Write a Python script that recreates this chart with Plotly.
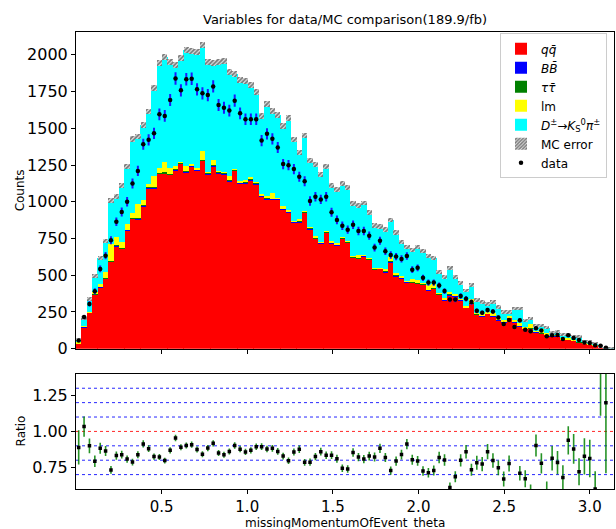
import numpy as np
import plotly.graph_objects as go

# ---------------- data ----------------
n_bins = 100
x_min, x_max = 0.0, np.pi

qq = [36, 147, 244, 369, 419, 477, 590, 697, 681, 805,
      885, 882, 968, 1090, 1090, 1190, 1190, 1183, 1213, 1258,
      1199, 1240, 1213, 1278, 1188, 1242, 1195, 1188, 1138, 1210,
      1124, 1124, 1143, 1120, 1036, 1018, 1014, 1014, 946, 928,
      860, 860, 925, 814, 747, 717, 790, 717, 704, 747,
      722, 618, 613, 629, 606, 538, 543, 520, 588, 493,
      480, 452, 448, 443, 437, 398, 410, 369, 331, 365,
      358, 331, 278, 308, 233, 222, 238, 222, 195, 181,
      211, 181, 154, 138, 138, 113, 102, 97, 86, 86,
      63, 63, 54, 45, 36, 27, 20, 10, 4, 1]

bb = [0, 1, 1, 1, 2, 2, 2, 3, 3, 3,
      3, 4, 4, 4, 4, 4, 5, 5, 5, 5,
      5, 5, 5, 5, 5, 5, 5, 5, 5, 5,
      5, 5, 5, 5, 5, 6, 5, 5, 5, 5,
      4, 4, 4, 6, 4, 4, 4, 4, 4, 5,
      4, 3, 3, 3, 3, 3, 3, 3, 3, 3,
      3, 3, 2, 2, 2, 2, 2, 2, 2, 2,
      2, 2, 2, 2, 2, 2, 2, 1, 1, 1,
      1, 1, 1, 1, 1, 1, 1, 1, 1, 1,
      1, 1, 0, 0, 0, 0, 0, 0, 0, 0]

tautau = [1, 1, 1, 2, 2, 2, 3, 3, 3, 3,
          3, 3, 3, 4, 4, 4, 4, 4, 4, 4,
          4, 4, 4, 4, 4, 4, 4, 4, 4, 4,
          4, 4, 4, 4, 4, 3, 3, 3, 3, 3,
          3, 3, 3, 3, 3, 3, 3, 3, 3, 3,
          3, 3, 3, 3, 3, 3, 3, 3, 3, 3,
          2, 2, 2, 2, 2, 2, 2, 2, 2, 2,
          2, 2, 2, 2, 2, 2, 2, 2, 2, 2,
          1, 1, 1, 1, 1, 1, 1, 1, 1, 1,
          1, 1, 1, 1, 0, 0, 0, 0, 0, 0]

lm = [8, 7, 5, 15, 18, 38, 115, 57, 38, 38,
      32, 95, 38, 25, 75, 32, 72, 38, 20, 2,
      34, 5, 5, 59, 5, 36, 5, 5, 25, 5,
      5, 18, 18, 2, 8, 10, 40, 2, 18, 7,
      2, 18, 2, 3, 14, 2, 2, 10, 5, 2,
      2, 5, 18, 5, 3, 3, 3, 15, 29, 18,
      7, 2, 22, 22, 5, 32, 27, 5, 8, 16,
      10, 5, 10, 27, 5, 12, 5, 15, 10, 12,
      10, 15, 18, 10, 27, 8, 29, 8, 5, 5,
      8, 5, 3, 3, 3, 3, 2, 1, 0, 0]

# total MC (top of the stack, i.e. qq + BB + tautau + lm + D->Ks pi)
mc_total = [63, 208, 339, 493, 615, 733, 1007, 1038, 1109, 1238,
            1428, 1443, 1523, 1615, 1776, 1941, 1986, 1948, 1928, 1975,
            2032, 2023, 2018, 2066, 1952, 1946, 1952, 1957, 1882, 1871,
            1828, 1821, 1797, 1747, 1584, 1665, 1618, 1590, 1516, 1568,
            1425, 1335, 1452, 1278, 1253, 1183, 1240, 1111, 1081, 1124,
            1097, 989, 975, 991, 928, 837, 833, 810, 876, 790,
            728, 692, 670, 692, 665, 631, 618, 525, 489, 548,
            489, 448, 396, 432, 330, 317, 306, 317, 285, 251,
            251, 272, 272, 192, 204, 154, 158, 143, 113, 120,
            97, 97, 82, 82, 52, 48, 40, 14, 5, 2]

data = [56, 215, 305, 391, 543, 633, 738, 864, 930, 1000,
        1124, 1210, 1391, 1421, 1466, 1595, 1584, 1692, 1839, 1758,
        1833, 1837, 1765, 1738, 1726, 1785, 1658, 1640, 1620, 1688,
        1602, 1561, 1561, 1561, 1416, 1462, 1428, 1369, 1256, 1249,
        1222, 1170, 1140, 1005, 1034, 1016, 1034, 928, 876, 837,
        810, 844, 801, 801, 769, 688, 735, 663, 638, 627,
        611, 631, 538, 550, 482, 450, 450, 430, 392, 335,
        335, 358, 340, 317, 258, 245, 263, 253, 213, 168,
        195, 147, 193, 129, 118, 139, 123, 84, 92, 94,
        66, 91, 72, 59, 43, 39, 24, 20, 6, 0]

y_ticks_main = [0, 250, 500, 750, 1000, 1250, 1500, 1750, 2000]
y_ticks_ratio = [0.75, 1.00, 1.25]
x_ticks = [0.5, 1.0, 1.5, 2.0, 2.5, 3.0]
ratio_lines_blue = [0.7, 0.8, 0.9, 1.1, 1.2, 1.3]
ratio_line_red = 1.0

# ---------------- derived quantities ----------------
edges = np.linspace(x_min, x_max, n_bins + 1)
centers = 0.5 * (edges[:-1] + edges[1:])
bw = edges[1] - edges[0]

qq_a = np.array(qq, float)
bb_a = np.array(bb, float)
tt_a = np.array(tautau, float)
lm_a = np.array(lm, float)
tot_a = np.array(mc_total, float)
dat_a = np.array(data, float)
dk_a = np.clip(tot_a - qq_a - bb_a - tt_a - lm_a, 0, None)
tot_a = qq_a + bb_a + tt_a + lm_a + dk_a
mc_err = 0.3 * np.sqrt(tot_a) + 7.0

FONT = "DejaVu Sans"
fig = go.Figure()

components = [
    ("<i>q</i><i>q̄</i>", qq_a, "#ff0000"),
    ("<i>B</i><i>B̄</i>", bb_a, "#0000ff"),
    ("<i>τ</i><i>τ̄</i>", tt_a, "#008000"),
    ("lm", lm_a, "#ffff00"),
    ("<i>D</i><sup>±</sup>→<i>K</i><sub>S</sub><sup>0</sup><i>π</i><sup>±</sup>", dk_a, "#00ffff"),
]
base = np.zeros(n_bins)
for name, vals, color in components:
    fig.add_trace(go.Bar(
        x=centers, y=vals, base=base.copy(), width=bw * 1.04,
        marker=dict(color=color, line=dict(width=0)),
        name=name, xaxis="x", yaxis="y",
    ))
    base = base + vals

fig.add_trace(go.Bar(
    x=centers, y=2 * mc_err, base=tot_a - mc_err, width=bw,
    marker=dict(color="rgba(255,255,255,0.9)", line=dict(width=0),
                pattern=dict(shape="/", fgcolor="#111111", bgcolor="rgba(225,225,225,0.95)",
                             size=3, solidity=0.6)),
    name="MC error", xaxis="x", yaxis="y",
))

m = dat_a > 0
fig.add_trace(go.Scatter(
    x=centers[m], y=dat_a[m], mode="markers",
    marker=dict(color="black", size=4.5),
    error_y=dict(type="data", array=np.sqrt(dat_a[m]), color="#1a1aff",
                 thickness=2, width=0),
    name="data", xaxis="x", yaxis="y",
))

ratio = dat_a[m] / tot_a[m]
ratio_err = np.sqrt(dat_a[m]) / tot_a[m]
fig.add_trace(go.Scatter(
    x=centers[m], y=ratio, mode="markers",
    marker=dict(color="black", size=3.5, symbol="square"),
    error_y=dict(type="data", array=ratio_err, color="rgba(0,128,0,0.85)",
                 thickness=1.6, width=0),
    showlegend=False, xaxis="x2", yaxis="y2",
))

shapes = []
for v in ratio_lines_blue:
    shapes.append(dict(type="line", xref="paper", x0=0, x1=1, yref="y2", y0=v, y1=v,
                       line=dict(color="rgba(0,0,255,0.85)", width=1, dash="dot"),
                       layer="below"))
shapes.append(dict(type="line", xref="paper", x0=0, x1=1, yref="y2",
                   y0=ratio_line_red, y1=ratio_line_red,
                   line=dict(color="rgba(255,0,0,0.85)", width=1, dash="dot"),
                   layer="below"))

axis_common = dict(showline=True, mirror=True, linecolor="black", linewidth=1,
                   showgrid=False, zeroline=False, ticks="outside", ticklen=4,
                   tickcolor="black")
tf16 = dict(size=16, family=FONT, color="black")
tf15 = dict(size=15, family=FONT, color="black")

fig.update_layout(
    width=616, height=529,
    margin=dict(l=76, r=2, t=32, b=40),
    plot_bgcolor="white", paper_bgcolor="white",
    barmode="overlay", bargap=0,
    font=dict(family=FONT, color="black"),
    xaxis=dict(domain=[0, 1], anchor="y", range=[x_min, x_max], matches="x2",
               tickvals=x_ticks, showticklabels=False, tickfont=tf16, **axis_common),
    yaxis=dict(domain=[0.307, 1], anchor="x", range=[0, 2155],
               tickvals=y_ticks_main, tickfont=tf16, **axis_common),
    xaxis2=dict(domain=[0, 1], anchor="y2", range=[x_min, x_max],
                tickvals=x_ticks, tickformat=".1f", tickfont=tf15, **axis_common),
    yaxis2=dict(domain=[0, 0.252], anchor="x2", range=[0.6, 1.4],
                tickvals=y_ticks_ratio, tickformat=".2f", tickfont=tf16, **axis_common),
    legend=dict(x=0.987, xanchor="right", y=0.997, yanchor="top",
                bgcolor="white", bordercolor="#cccccc", borderwidth=1,
                font=dict(size=12, family=FONT), itemwidth=30, tracegroupgap=0),
    shapes=shapes,
    annotations=[
        dict(text="Variables for data/MC comparison(189.9/fb)", xref="paper", yref="paper",
             x=0.5, y=1, yanchor="bottom", yshift=3, showarrow=False,
             font=dict(size=13, family=FONT)),
        dict(text="Counts", xref="paper", yref="paper", x=0, y=(0.307 + 1) / 2,
             xanchor="center", yanchor="middle", xshift=-56, textangle=-90,
             showarrow=False, font=dict(size=12, family=FONT)),
        dict(text="Ratio", xref="paper", yref="paper", x=0, y=0.126,
             xanchor="center", yanchor="middle", xshift=-55, textangle=-90,
             showarrow=False, font=dict(size=12, family=FONT)),
        dict(text="missingMomentumOfEvent_theta", xref="paper", yref="paper",
             x=0.5, y=0, yanchor="top", yshift=-25, showarrow=False,
             font=dict(size=12, family=FONT)),
    ],
)

fig.write_html("out.html")
